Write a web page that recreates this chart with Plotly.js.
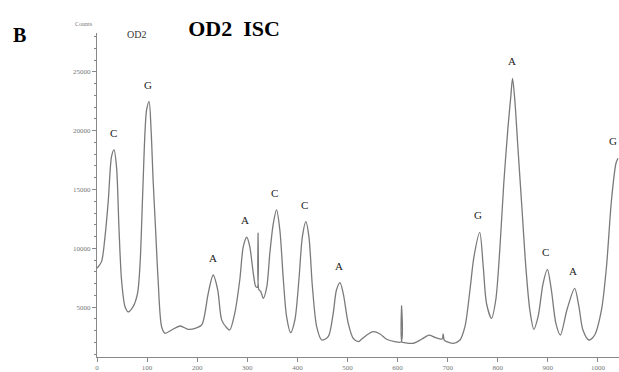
<!DOCTYPE html>
<html>
<head>
<meta charset="utf-8">
<script src="https://cdn.plot.ly/plotly-3.0.1.min.js"></script>
<style>html,body{margin:0;padding:0;background:#fff;}#chart{width:619px;height:372px;}</style>
</head>
<body>
<div id="chart"></div>
<script>
// Electropherogram trace (position vs counts)
const positions = [0, 9, 16, 22.6, 29, 34, 39, 44, 49, 56, 62.5, 72, 81, 86, 91, 96, 99, 104, 108, 112, 117, 122, 129, 136, 149, 166, 182, 196, 209, 215.5, 222, 232, 241, 249, 259, 265, 275, 285, 292, 299, 305, 312, 317, 320, 321.5, 323, 327, 332, 339, 345, 352, 358.5, 365, 372, 378.5, 386.5, 395, 403, 410, 417, 423, 430, 438.5, 448.5, 461.5, 471.5, 478, 485, 491.5, 501.5, 511.5, 521.5, 528, 541.5, 551.5, 565, 578, 594.5, 607, 608, 609, 614.5, 631, 648, 662.5, 674.5, 689, 691, 693, 698, 711, 724.5, 734.5, 744.5, 752.5, 764, 771, 777.5, 787.5, 796, 804, 812, 820.5, 826, 829.5, 834, 840.5, 848.5, 856, 864, 872, 880.5, 890.5, 899, 907, 916, 925, 938, 953.5, 962, 970, 982, 993.5, 1007, 1017, 1027, 1036, 1040];
const counts = [8300, 8870, 11000, 14100, 17800, 18360, 16900, 11560, 7300, 5040, 4600, 5040, 6200, 8700, 14400, 20060, 21760, 22470, 20060, 15800, 11560, 7300, 3340, 2780, 3060, 3400, 3120, 3200, 3490, 4500, 6180, 7735, 6460, 3900, 3250, 3060, 4480, 7310, 10140, 10940, 10140, 7880, 6740, 6700, 11280, 6500, 6320, 5750, 6740, 9580, 12130, 13260, 11560, 7310, 4190, 2830, 3910, 7310, 11000, 12270, 11000, 6740, 3340, 2210, 2490, 4480, 6460, 7080, 6180, 3630, 2350, 2070, 2270, 2720, 2920, 2720, 2270, 2070, 2050, 5100, 2030, 1980, 1930, 2270, 2630, 2440, 2300, 2720, 2200, 2070, 1930, 2210, 3340, 6460, 9290, 11350, 8440, 5330, 4050, 5610, 9860, 15530, 20340, 22890, 24450, 22610, 18360, 13260, 8440, 4760, 3120, 4190, 7030, 8220, 6460, 3630, 2635, 4760, 6600, 5040, 3060, 2210, 2635, 4760, 8440, 14110, 17230, 17650];

// Base-call labels over peaks
const peakLabels = ['C', 'G', 'A', 'A', 'C', 'C', 'A', 'G', 'A', 'C', 'A', 'G'];
const peakX = [33, 102, 231, 296, 355, 414, 484, 761, 829, 896, 950, 1031];
const peakY = [18360, 22470, 7735, 10940, 13260, 12270, 7080, 11350, 24450, 8220, 6600, 17650];

const xTicks = [0, 100, 200, 300, 400, 500, 600, 700, 800, 900, 1000];
const yTicks = [5000, 10000, 15000, 20000, 25000];

const serif = 'Liberation Serif, Times New Roman, serif';

const annotations = peakLabels.map((t, i) => ({
  x: peakX[i], y: peakY[i], xref: 'x', yref: 'y', text: t, showarrow: false,
  yanchor: 'bottom', yshift: 9, font: {family: serif, size: 11, color: '#222'}
}));
annotations.push(
  {xref: 'paper', yref: 'paper', x: -0.148, y: 0.993, text: 'B', showarrow: false, xanchor: 'center', yanchor: 'middle',
   font: {family: serif, size: 20, color: '#000', weight: 'bold'}},
  {xref: 'paper', yref: 'paper', x: -0.025, y: 1.027, text: 'Counts', showarrow: false, xanchor: 'center', yanchor: 'middle',
   font: {family: serif, size: 6, color: '#777'}},
  {xref: 'paper', yref: 'paper', x: 0.075, y: 0.995, text: 'OD2', showarrow: false, xanchor: 'center', yanchor: 'middle',
   font: {family: serif, size: 10, color: '#333'}}
);

const data = [{
  x: positions, y: counts, type: 'scatter', mode: 'lines',
  line: {color: '#7a7a7a', width: 1.3, shape: 'spline', smoothing: 0.8}, hoverinfo: 'skip'
}];

const layout = {
  width: 619, height: 372,
  margin: {l: 97, r: 0, t: 33, b: 15},
  paper_bgcolor: '#fff', plot_bgcolor: '#fff',
  showlegend: false,
  title: {text: '<b>OD2  ISC</b>', x: 0.378, xanchor: 'center', y: 0.925, yanchor: 'middle',
          font: {family: serif, size: 22, color: '#000'}},
  xaxis: {range: [0, 1042], showgrid: false, zeroline: false, showline: true, linecolor: '#888', linewidth: 1,
          ticks: 'outside', ticklen: 4, tickcolor: '#888', tickvals: xTicks, ticktext: xTicks.map(String),
          tickfont: {family: serif, size: 7, color: '#777'}},
  yaxis: {range: [765, 28300], showgrid: false, zeroline: false, showline: true, linecolor: '#888', linewidth: 1,
          ticks: 'outside', ticklen: 4, tickcolor: '#888', tickvals: yTicks, ticktext: yTicks.map(String),
          tickfont: {family: serif, size: 7, color: '#777'},
          minor: {ticks: 'outside', ticklen: 2, tickcolor: '#888', dtick: 1000, tick0: 0}},
  annotations: annotations
};

Plotly.newPlot('chart', data, layout, {displayModeBar: false, staticPlot: true});
</script>
</body>
</html>
